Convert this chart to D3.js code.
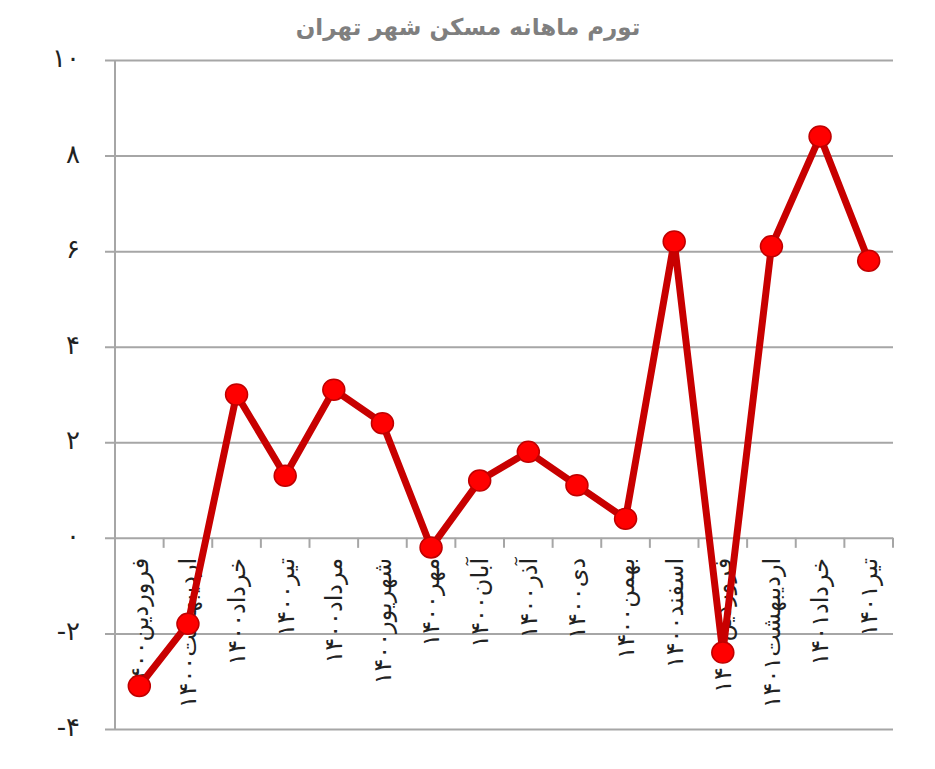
<!DOCTYPE html>
<html>
<head>
<meta charset="utf-8">
<script src="https://cdn.jsdelivr.net/npm/d3@7"></script>
<style>
  body { margin: 0; background: #fff; }
  svg { display: block; font-family: "DejaVu Sans", sans-serif; }
</style>
</head>
<body>
<svg id="chart" width="935" height="769"></svg>
<script>
const title = 'تورم ماهانه مسکن شهر تهران';

const months = ['فروردین', 'اردیبهشت', 'خرداد', 'تیر', 'مرداد', 'شهریور', 'مهر', 'آبان',
  'آذر', 'دی', 'بهمن', 'اسفند', 'فروردین', 'اردیبهشت', 'خرداد', 'تیر'];
const years = ['۱۴۰۰', '۱۴۰۰', '۱۴۰۰', '۱۴۰۰', '۱۴۰۰', '۱۴۰۰', '۱۴۰۰', '۱۴۰۰',
  '۱۴۰۰', '۱۴۰۰', '۱۴۰۰', '۱۴۰۰', '۱۴۰۱', '۱۴۰۱', '۱۴۰۱', '۱۴۰۱'];
const inflation = [-3.1, -1.8, 3.0, 1.3, 3.1, 2.4, -0.2, 1.2, 1.8, 1.1, 0.4, 6.2, -2.4, 6.1, 8.4, 5.8];

const yTicks = [-4, -2, 0, 2, 4, 6, 8, 10];
const yTickLabels = ['-۴', '-۲', '۰', '۲', '۴', '۶', '۸', '۱۰'];

const svg = d3.select('#chart');
const plotLeft = 115, plotRight = 893, plotTop = 60, plotBottom = 729;

const labels = months.map((m, i) => m + years[i]);
const data = labels.map((l, i) => ({ label: l, value: inflation[i] }));

const x = d3.scaleBand().domain(labels).range([plotLeft, plotRight]).padding(0);
const y = d3.scaleLinear().domain([-4, 10]).range([plotBottom, plotTop]);

// title
svg.append('text')
  .attr('x', 468)
  .attr('y', 35)
  .attr('text-anchor', 'middle')
  .attr('fill', '#7f7f7f')
  .attr('font-weight', 'bold')
  .attr('font-size', 23)
  .text(title);

// horizontal grid + y labels
const yAxis = svg.append('g')
  .attr('transform', `translate(${plotRight},0)`)
  .call(d3.axisLeft(y)
    .tickValues(yTicks)
    .tickSize(plotRight - plotLeft + 10)
    .tickPadding(25)
    .tickFormat((d, i) => yTickLabels[i]));
yAxis.select('.domain').remove();
yAxis.selectAll('line').attr('stroke', '#a6a6a6').attr('stroke-width', 2);
yAxis.selectAll('text')
  .attr('fill', '#222')
  .attr('font-size', 26)
  .attr('dy', '0.25em')
  .attr('font-family', '"DejaVu Sans", sans-serif');

// vertical axis line
svg.append('line')
  .attr('x1', plotLeft).attr('x2', plotLeft)
  .attr('y1', y(10)).attr('y2', y(-4))
  .attr('stroke', '#a6a6a6').attr('stroke-width', 2);

// category ticks on zero line
const bounds = labels.map(l => x(l)).concat([plotRight]);
svg.append('g').selectAll('line')
  .data(bounds)
  .join('line')
  .attr('x1', d => d).attr('x2', d => d)
  .attr('y1', y(0)).attr('y2', y(0) + 10)
  .attr('stroke', '#a6a6a6').attr('stroke-width', 2);

// category labels, rotated
svg.append('g').selectAll('text')
  .data(labels)
  .join('text')
  .attr('transform', d => `translate(${x(d) + x.bandwidth() / 2},${y(0) + 20}) rotate(-90)`)
  .attr('text-anchor', 'end')
  .attr('dy', '0.35em')
  .attr('fill', '#222')
  .attr('font-size', 24)
  .text(d => d);

// line
const line = d3.line()
  .x(d => x(d.label) + x.bandwidth() / 2)
  .y(d => y(d.value));

svg.append('path')
  .datum(data)
  .attr('d', line)
  .attr('fill', 'none')
  .attr('stroke', '#c80000')
  .attr('stroke-width', 7)
  .attr('stroke-linejoin', 'round');

// markers
svg.append('g').selectAll('ellipse')
  .data(data)
  .join('ellipse')
  .attr('cx', d => x(d.label) + x.bandwidth() / 2)
  .attr('cy', d => y(d.value))
  .attr('rx', 11)
  .attr('ry', 10.5)
  .attr('fill', '#ff0000')
  .attr('stroke', '#c00000')
  .attr('stroke-width', 1.5);
</script>
</body>
</html>
